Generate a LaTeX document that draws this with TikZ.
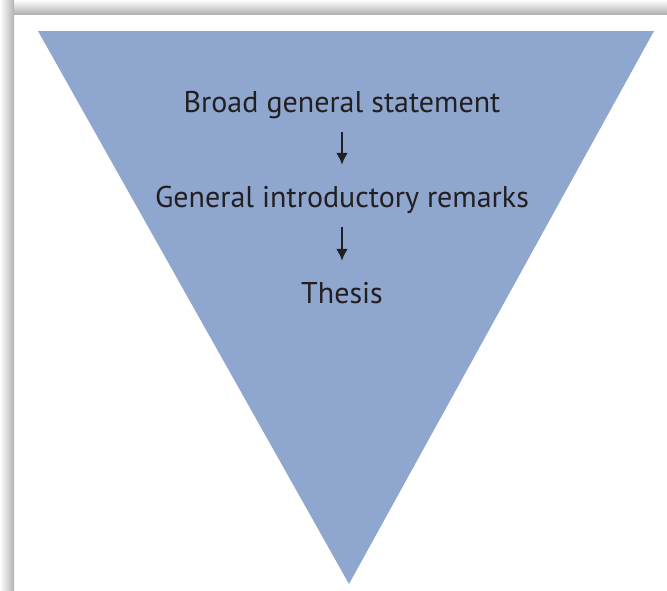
\documentclass[tikz,border=0pt]{standalone}
\usepackage{fontspec}
\setmainfont{PT Sans}
\usetikzlibrary{arrows.meta}

\definecolor{funnelblue}{RGB}{143,166,207}
\definecolor{inkgray}{RGB}{35,31,32}

\begin{document}
\begin{tikzpicture}[>={Latex[length=12pt,width=12pt]}, x=1pt, y=-1pt]
    \useasboundingbox (0,0) rectangle (667,590);
    \fill[white] (0,0) rectangle (667,590);

    % shadow of the frame
    \shade[top color=white, bottom color=gray!60] (0,0) rectangle (667,14);
    \shade[left color=white, right color=gray!60] (0,0) rectangle (14,590);
    \fill[white] (15,15) rectangle (667,590);

    \coordinate (topL) at (38,31);
    \coordinate (topR) at (654,31);
    \coordinate (apex) at (349,584);

    \fill[funnelblue] (topL) -- (topR) -- (apex) -- cycle;

    \tikzset{level/.style={anchor=base, inner sep=0pt, text height=20pt, text depth=6pt,
        text=inkgray, font=\fontsize{30}{34}\selectfont}}

    \node[level] (broad) at (342,112) {Broad general statement};
    \node[level] (general) at (342,207) {General introductory remarks};
    \node[level] (thesis) at (342,303) {Thesis};

    \draw[->,line width=2.6pt,inkgray,shorten <=14pt,shorten >=22pt] (broad.south) -- (general.north);
    \draw[->,line width=2.6pt,inkgray,shorten <=14pt,shorten >=22pt] (general.south) -- (thesis.north);

\end{tikzpicture}
\end{document}
